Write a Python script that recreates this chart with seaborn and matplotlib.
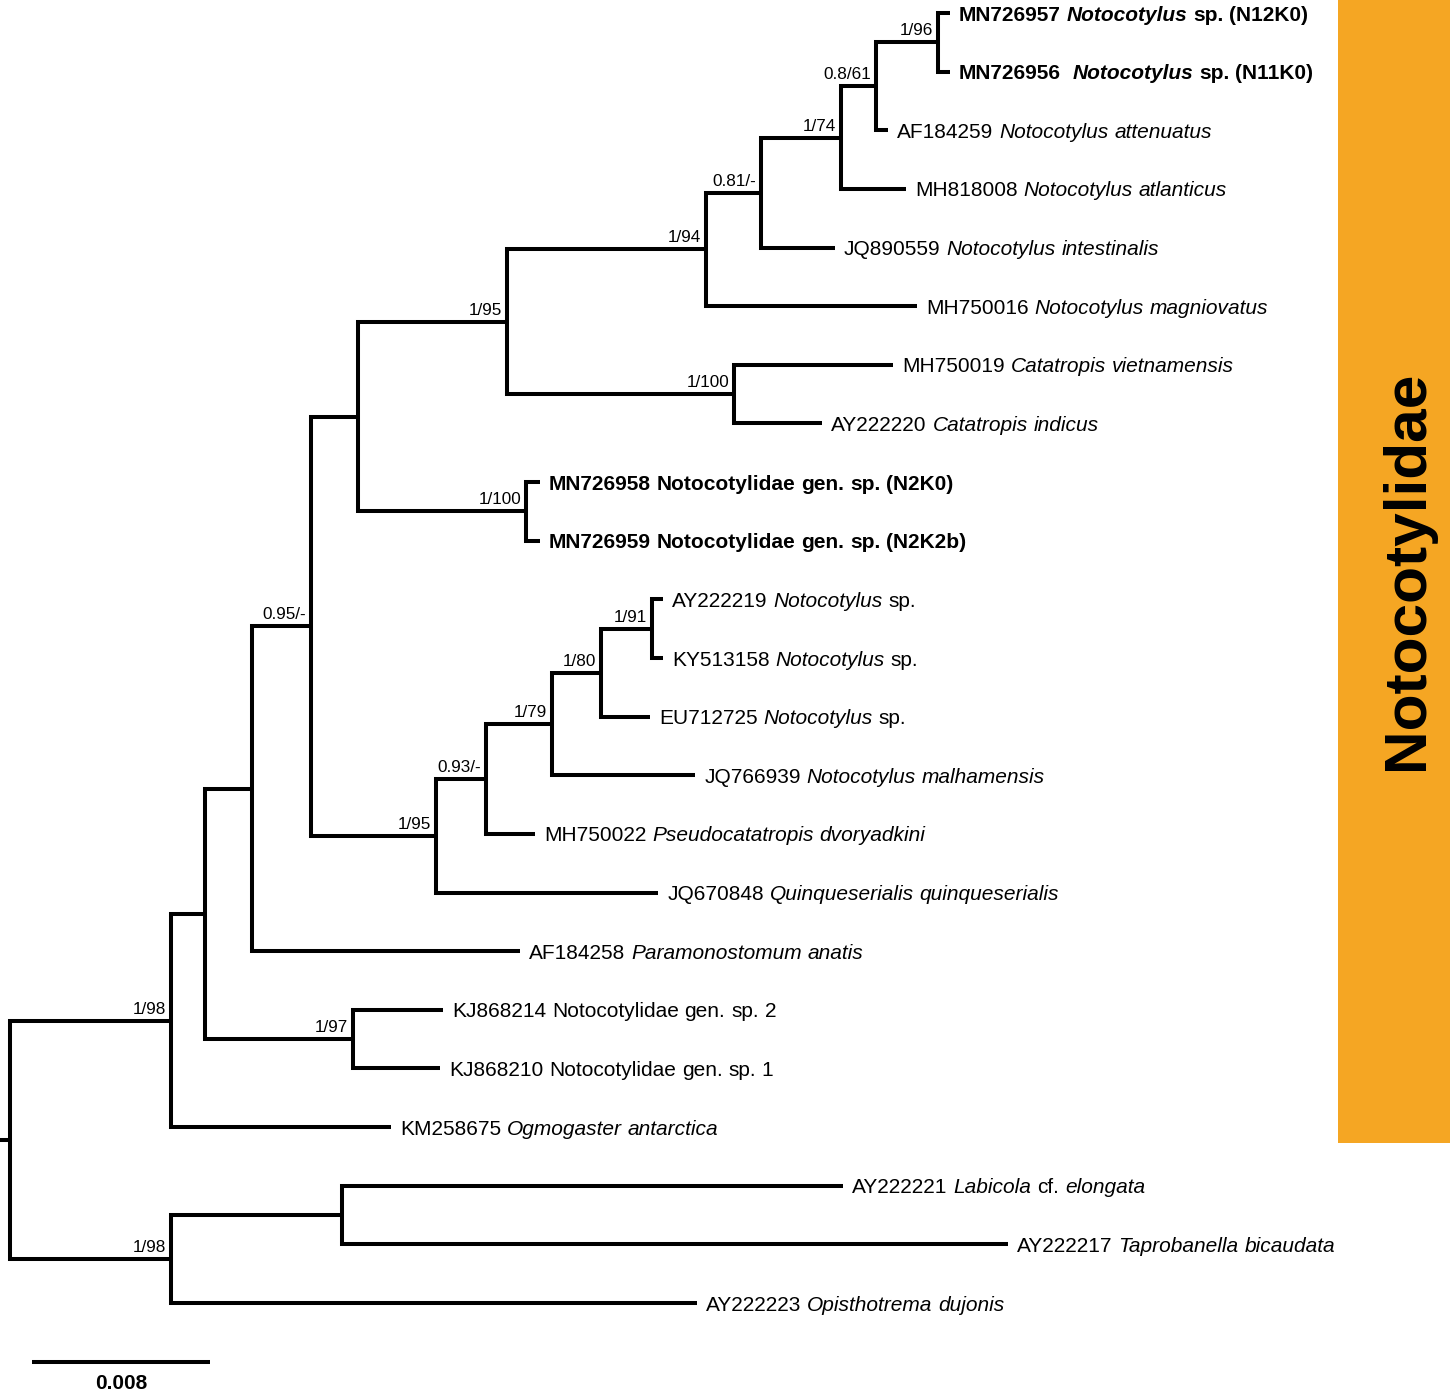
import re
import matplotlib
matplotlib.use("Agg")
import matplotlib.pyplot as plt
from matplotlib.patches import Rectangle
import pandas as pd
import seaborn as sns

# tree (BI posterior / ML bootstrap as node names), branch lengths in subst./site
tree_newick = (
    "((((((((("
    "(((MN726957:0.00054,MN726956:0.00054)1/96:0.00279,AF184259:0.00054)0.8/61:0.00157,MH818008:0.00292)1/74"
    ":0.0036,JQ890559:0.00333)0.81/-"
    ":0.00247,MH750016:0.00948)1/94"
    ":0.00894,(MH750019:0.00715,AY222220:0.00396)1/100:0.0102)1/95"
    ":0.0067,(MN726958:0.00063,MN726959:0.00063)1/100:0.00755)"
    ":0.00211,"
    "(((((AY222219:0.00049,KY513158:0.00049)1/91:0.00229,EU712725:0.0022)1/80:0.0022,"
    "JQ766939:0.00643)1/79:0.00297,MH750022:0.0022)0.93/-:0.00225,JQ670848:0.00998)1/95"
    ":0.00562)0.95/-"
    ":0.00265,AF184258:0.01204)"
    ":0.00211,(KJ868214:0.00404,KJ868210:0.00391)1/97:0.00665)"
    ":0.00153,KM258675:0.00989)1/98"
    ":0.00724,"
    "((AY222221:0.02252,AY222217:0.02993):0.00769,AY222223:0.02364)1/98"
    ":0.00724):0.00045;"
)

# taxon names, *...* = italic
taxon_names = {
    "MN726957": "*Notocotylus* sp. (N12K0)",
    "MN726956": " *Notocotylus* sp. (N11K0)",
    "AF184259": "*Notocotylus attenuatus*",
    "MH818008": "*Notocotylus atlanticus*",
    "JQ890559": "*Notocotylus intestinalis*",
    "MH750016": "*Notocotylus magniovatus*",
    "MH750019": "*Catatropis vietnamensis*",
    "AY222220": "*Catatropis indicus*",
    "MN726958": "Notocotylidae gen. sp. (N2K0)",
    "MN726959": "Notocotylidae gen. sp. (N2K2b)",
    "AY222219": "*Notocotylus* sp.",
    "KY513158": "*Notocotylus* sp.",
    "EU712725": "*Notocotylus* sp.",
    "JQ766939": "*Notocotylus malhamensis*",
    "MH750022": "*Pseudocatatropis dvoryadkini*",
    "JQ670848": "*Quinqueserialis quinqueserialis*",
    "AF184258": "*Paramonostomum anatis*",
    "KJ868214": "Notocotylidae gen. sp. 2",
    "KJ868210": "Notocotylidae gen. sp. 1",
    "KM258675": "*Ogmogaster antarctica*",
    "AY222221": "*Labicola* cf. *elongata*",
    "AY222217": "*Taprobanella bicaudata*",
    "AY222223": "*Opisthotrema dujonis*",
}
new_sequences = ["MN726957", "MN726956", "MN726958", "MN726959"]
clade_name = "Notocotylidae"
scale_value = 0.008


def parse_newick(s):
    pos = 0

    def node():
        nonlocal pos
        children = []
        if s[pos] == "(":
            pos += 1
            children.append(node())
            while s[pos] == ",":
                pos += 1
                children.append(node())
            pos += 1
        start = pos
        while s[pos] not in ":,);":
            pos += 1
        name = s[start:pos]
        length = 0.0
        if s[pos] == ":":
            pos += 1
            start = pos
            while s[pos] not in ",);":
                pos += 1
            length = float(s[start:pos])
        return {"name": name, "len": length, "children": children}

    return node()


tree = parse_newick(tree_newick)

# layout: x = distance from root, y = tip order
tip_counter = [0]


def layout(nd, x0):
    nd["x"] = x0 + nd["len"]
    nd["x0"] = x0
    if not nd["children"]:
        nd["y"] = tip_counter[0]
        tip_counter[0] += 1
    else:
        for ch in nd["children"]:
            layout(ch, nd["x"])
        nd["y"] = (nd["children"][0]["y"] + nd["children"][-1]["y"]) / 2


layout(tree, 0.0)

# branch segments (elbows)
rows = []
tips, inner = [], []


def collect(nd, parent=None):
    seg = len(set(r["seg"] for r in rows))
    if parent is None:
        pts = [(nd["x0"], nd["y"]), (nd["x"], nd["y"])]
    else:
        pts = [(parent["x"], parent["y"]), (parent["x"], nd["y"]), (nd["x"], nd["y"])]
    for i, (px, py) in enumerate(pts):
        rows.append({"seg": seg, "order": i, "x": px, "y": py})
    if nd["children"]:
        inner.append(nd)
        for ch in nd["children"]:
            collect(ch, nd)
    else:
        tips.append(nd)


collect(tree)
seg_df = pd.DataFrame(rows)

sns.set_style("white")
plt.rcParams["font.family"] = ["Liberation Sans", "DejaVu Sans"]
plt.rcParams["text.color"] = "black"

fig = plt.figure(figsize=(14.5, 13.91), dpi=100)
ax = fig.add_axes([0, 0, 1, 1])

# clade bar
ax.add_patch(Rectangle((0.9228, 0.1783), 0.08, 0.83, transform=ax.transAxes,
                       color="#F5A623", lw=0, zorder=0))
ax.text(0.9705, 0.590, clade_name, transform=ax.transAxes, rotation=90,
        ha="center", va="center", fontsize=43.5, fontweight="bold")

sns.lineplot(data=seg_df, x="x", y="y", units="seg", estimator=None, sort=False,
             color="black", linewidth=2.9, legend=False, ax=ax,
             solid_joinstyle="miter", solid_capstyle="butt")

# tip labels
fs = 15
space_pt = 0.278 * fs
for tip in tips:
    acc = tip["name"]
    bold = acc in new_sequences
    full = acc + " " + taxon_names[acc]
    prev = None
    pad = 0.0
    for k, part in enumerate(full.split("*")):
        italic = k % 2 == 1
        for tok in re.findall(r" +|[^ ]+", part):
            if tok.startswith(" "):
                pad += len(tok) * space_pt
                continue
            kw = dict(fontsize=fs, fontweight="bold" if bold else "normal",
                      fontstyle="italic" if italic else "normal",
                      textcoords="offset points", ha="left")
            if prev is None:
                prev = ax.annotate(tok, xy=(tip["x"], tip["y"]), xycoords="data",
                                   xytext=(6.5, -5.4), va="baseline", **kw)
            else:
                prev = ax.annotate(tok, xy=(1, 0), xycoords=prev,
                                   xytext=(pad, 0), va="bottom", **kw)
            pad = 0.0

# support values
for nd in inner:
    if nd["name"]:
        ax.annotate(nd["name"], xy=(nd["x"], nd["y"]), xytext=(-3.5, 5),
                    textcoords="offset points", ha="right", va="baseline",
                    fontsize=12.3)

# scale bar
sb_y = len(tips)
sb_x = 0.00144
ax.plot([sb_x, sb_x + scale_value], [sb_y, sb_y], color="black", lw=2.9,
        solid_capstyle="butt")
ax.annotate(f"{scale_value:.3f}", xy=(sb_x + scale_value / 2, sb_y), xytext=(0, -9),
            textcoords="offset points", ha="center", va="top",
            fontsize=15, fontweight="bold")

ax.set_xlim(0, 1450 / 22250)
ax.set_ylim(23.5, -0.2217)
ax.axis("off")

fig.savefig("out.png", dpi=100)
